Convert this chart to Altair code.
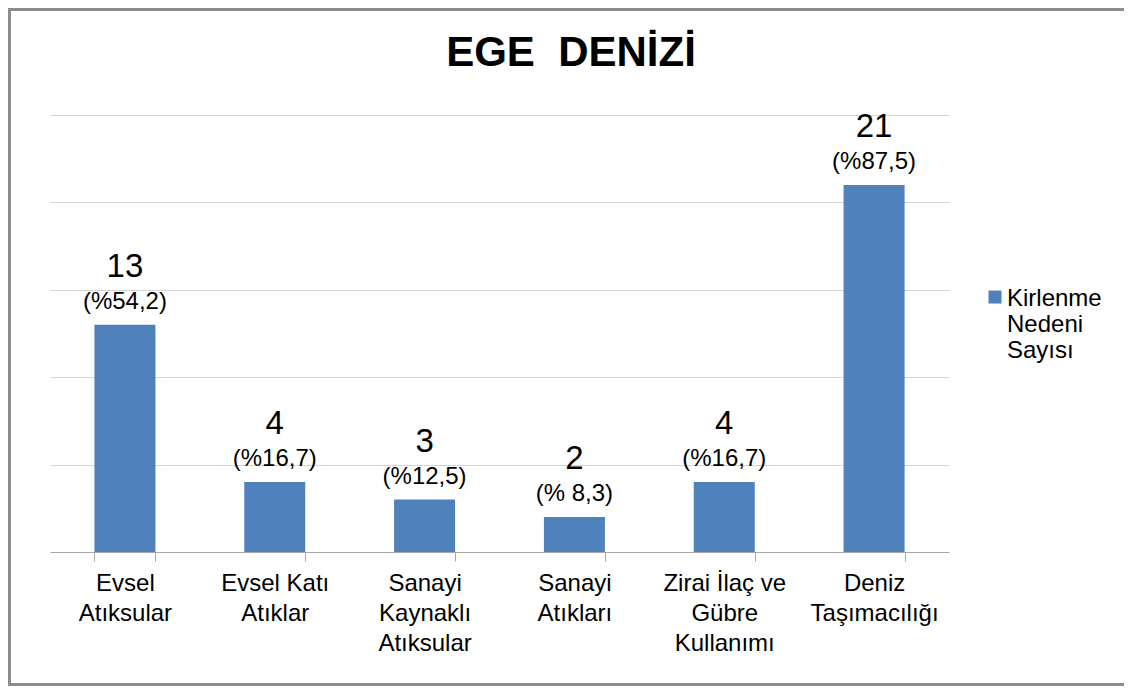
import altair as alt
import pandas as pd

# ---- data ----
categories = [
    "Evsel\nAtıksular",
    "Evsel Katı\nAtıklar",
    "Sanayi\nKaynaklı\nAtıksular",
    "Sanayi\nAtıkları",
    "Zirai İlaç ve\nGübre\nKullanımı",
    "Deniz\nTaşımacılığı",
]
counts = [13, 4, 3, 2, 4, 21]
percents = ["(%54,2)", "(%16,7)", "(%12,5)", "(% 8,3)", "(%16,7)", "(%87,5)"]
series_name = "Kirlenme Nedeni Sayısı"
y_ticks = [0, 5, 10, 15, 20, 25]
title_text = "EGE\u00a0 DENİZİ"

FONT = "Liberation Sans"
BAR = "#4F81BD"

df = pd.DataFrame({
    "cat": categories,
    "count": counts,
    "pct": percents,
    "series": [series_name] * len(categories),
})

x_enc = alt.X(
    "cat:N",
    sort=categories,
    scale=alt.Scale(paddingInner=0.593, paddingOuter=0.2965),
    axis=alt.Axis(
        title=None,
        labelExpr="split(datum.label, '\\n')",
        labelFont=FONT,
        labelFontSize=24,
        labelColor="black",
        labelAngle=0,
        labelPadding=10,
        labelLineHeight=30,
        tickBand="extent",
        tickSize=9,
        tickColor="#a6a6a6",
        domainColor="#a6a6a6",
        grid=False,
    ),
)

y_enc = alt.Y(
    "count:Q",
    scale=alt.Scale(domain=[0, 25], nice=False),
    axis=alt.Axis(
        title=None,
        values=y_ticks,
        labels=False,
        ticks=False,
        domain=False,
        grid=True,
        gridColor="#d4d4d4",
        gridWidth=1,
    ),
)

base = alt.Chart(df)

bars = base.mark_bar(size=61).encode(
    x=x_enc,
    y=y_enc,
    color=alt.Color(
        "series:N",
        scale=alt.Scale(range=[BAR]),
        legend=alt.Legend(
            title=None,
            orient="none",
            legendX=933,
            legendY=178.5,
            padding=0,
            labelExpr="split(datum.label, ' ')",
            labelFont=FONT,
            labelFontSize=24,
            labelBaseline="alphabetic",
            labelColor="black",
            labelOffset=0,
            symbolType="M-1,-2.3H1V-0.3H-1Z",
            symbolSize=169,
            symbolStrokeWidth=0,
        ),
    ),
)

value_text = base.mark_text(
    font=FONT, fontSize=33, color="black", baseline="alphabetic", dy=-48
).encode(x=alt.X("cat:N", sort=categories), y="count:Q", text="count:Q")

pct_text = base.mark_text(
    font=FONT, fontSize=24, color="black", baseline="alphabetic", dy=-16
).encode(x=alt.X("cat:N", sort=categories), y="count:Q", text="pct:N")

frame = alt.Chart(pd.DataFrame({"f": [0]})).mark_rect(
    fill=None, stroke="#8c8c8c", strokeWidth=3
).encode(
    x=alt.value(-40.5), x2=alt.value(1200),
    y=alt.value(-105.5), y2=alt.value(569.5),
)

chart = alt.layer(frame, bars, value_text, pct_text).properties(
    width=899,
    height=437,
    title=alt.Title(
        title_text,
        font=FONT,
        fontSize=42,
        fontWeight="bold",
        color="black",
        anchor="middle",
        frame="group",
        dx=71.5,
        offset=-100,
        baseline="alphabetic",
    ),
    autosize=alt.AutoSizeParams(type="none"),
    padding={"left": 42, "top": 107, "right": 175, "bottom": 134},
).configure_view(stroke=None)

chart.save("out.html", embed_options={"renderer": "svg", "actions": False})
